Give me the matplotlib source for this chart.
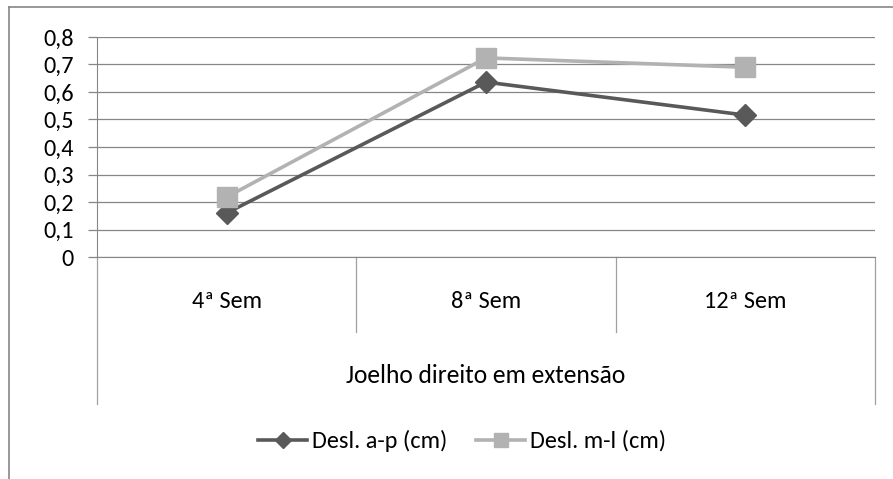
import matplotlib.pyplot as plt
from matplotlib.lines import Line2D

categorias = ['4ª Sem', '8ª Sem', '12ª Sem']
grupo = 'Joelho direito em extensão'
desl_ap = [0.16, 0.636, 0.516]
desl_ml = [0.218, 0.724, 0.69]
yticks = [0, 0.1, 0.2, 0.3, 0.4, 0.5, 0.6, 0.7, 0.8]
ytick_labels = ['0', '0,1', '0,2', '0,3', '0,4', '0,5', '0,6', '0,7', '0,8']

plt.rcParams['font.family'] = ['Carlito', 'Liberation Sans Narrow', 'DejaVu Sans']
FS = 17.5

W, H = 893, 479
fig = plt.figure(figsize=(W / 100, H / 100), dpi=100)
ax = fig.add_axes([97 / W, 1 - 257 / H, (875 - 97) / W, 220 / H])

x = list(range(len(categorias)))
ax.plot(x, desl_ap, color='#595959', lw=2.6, marker='D', ms=11, label='Desl. a-p (cm)', zorder=3)
ax.plot(x, desl_ml, color='#b2b2b2', lw=2.6, marker='s', ms=14, label='Desl. m-l (cm)', zorder=3)

ax.set_xlim(-0.5, 2.5)
ax.set_ylim(0, 0.8)
ax.set_yticks(yticks)
ax.set_yticklabels(ytick_labels, fontsize=FS)
ax.set_xticks([])
ax.tick_params(axis='y', length=6.5, width=0.9, color='#868686', pad=10)
ax.grid(axis='y', color='#868686', lw=0.9)
ax.set_axisbelow(True)
for s in ['top', 'right']:
    ax.spines[s].set_visible(False)
ax.spines['left'].set_color('#868686')
ax.spines['bottom'].set_color('#868686')

# category axis with two levels
tr = ax.get_xaxis_transform()
for b in [0.5, 1.5]:
    ax.plot([b, b], [0, -0.34], transform=tr, color='#a0a0a0', lw=0.9, clip_on=False)
for b in [-0.5, 2.5]:
    ax.plot([b, b], [0, -0.668], transform=tr, color='#a0a0a0', lw=0.9, clip_on=False)
for i, c in enumerate(categorias):
    ax.text(i, -0.2, c, transform=tr, ha='center', va='center', fontsize=FS)
ax.text(1, -0.54, grupo, transform=tr, ha='center', va='center', fontsize=FS * 1.05)

ax.legend(loc='center', bbox_to_anchor=(462 / W, 1 - 441 / H), bbox_transform=fig.transFigure,
          ncol=2, frameon=False, fontsize=FS, handlelength=2.0, columnspacing=1.2,
          handletextpad=0.2, markerscale=0.75)

# outer chart border (cropped at right and bottom)
fig.add_artist(Line2D([9 / W, 9 / W], [0, 1 - 7 / H], color='#868686', lw=1.2))
fig.add_artist(Line2D([9 / W, 1], [1 - 7 / H, 1 - 7 / H], color='#868686', lw=1.2))

fig.savefig('out.png', dpi=100)
